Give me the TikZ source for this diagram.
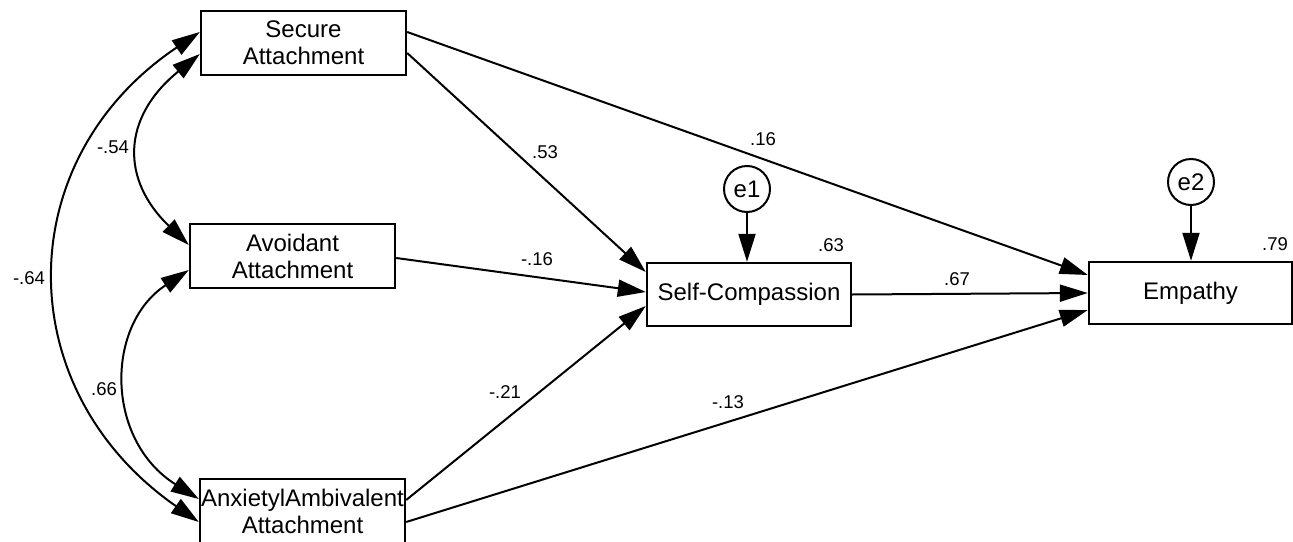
\documentclass[tikz,border=0pt]{standalone}
\usepackage{fontspec}
\setmainfont{Liberation Sans}
\usetikzlibrary{arrows.meta}
\begin{document}
\begin{tikzpicture}[x=1pt,y=-1pt,
  box/.style={draw,line width=2.4pt,inner sep=0pt,align=center,font=\fontsize{24}{27}\selectfont},
  err/.style={draw,circle,line width=2pt,minimum size=46pt,inner sep=0pt,font=\fontsize{24}{27}\selectfont},
  path/.style={line width=2pt,-{Triangle[length=28pt,width=17pt]}},
  cov/.style={line width=2pt,{Triangle[length=28pt,width=17pt]}-{Triangle[length=28pt,width=17pt]}},
  num/.style={inner sep=0pt,font=\fontsize{18.5}{20}\selectfont}]
\useasboundingbox (0,0) rectangle (1293,541);
\node[box,minimum width=205pt,minimum height=64pt] (sec) at (303.5,43) {Secure\\Attachment};
\node[box,minimum width=205pt,minimum height=64pt] (avo) at (292.5,256) {Avoidant\\Attachment};
\node[box,minimum width=205pt,minimum height=64pt] (anx) at (302.5,511) {\makebox[0pt][c]{AnxietylAmbivalent}\\Attachment};
\node[box,minimum width=204pt,minimum height=63pt] (sc) at (749,294.5) {Self-Compassion};
\node[box,minimum width=203pt,minimum height=62pt] (emp) at (1190.5,293) {Empathy};
\node[err] (e1) at (747,189) {e1};
\node[err] (e2) at (1191,182) {e2};
% paths
\draw[path] ([yshift=-10pt]sec.east) -- ([yshift=22.5pt]sc.west);
\draw[path] ([yshift=11pt]sec.east) -- ([yshift=18pt]emp.west);
\draw[path] ([yshift=-2pt]avo.east) -- ([yshift=2.5pt]sc.west);
\draw[path] (sc.east) -- (emp.west);
\draw[path] ([yshift=11pt]anx.east) -- ([yshift=-11.5pt]sc.west);
\draw[path] ([yshift=-11pt]anx.east) -- ([yshift=-17pt]emp.west);
\draw[path] (e1.south) -- (e1.south |- sc.north);
\draw[path] (e2.south) -- (e2.south |- emp.north);
% covariances
\draw[cov] ([yshift=-11pt]sec.west) .. controls (121,118) and (121,180) .. ([yshift=11pt]avo.west);
\draw[cov] ([yshift=11pt]sec.west) .. controls (9,160) and (9,390) .. ([yshift=-11pt]anx.west);
\draw[cov] ([yshift=-14pt]avo.west) .. controls (105,325) and (105,440) .. ([yshift=12pt]anx.west);
% labels
\node[num] (l16) at (763,139) {.16};
\node[num] (l53) at (545,152) {.53};
\node[num] (lm16) at (537,259) {-.16};
\node[num] (l67) at (957,279) {.67};
\node[num] (lm21) at (505,392) {-.21};
\node[num] (lm13) at (728,402) {-.13};
\node[num] (lm54) at (113,147) {-.54};
\node[num] (lm64) at (29,278) {-.64};
\node[num] (l66) at (104,389) {.66};
\node[num] (l63) at (831,245) {.63};
\node[num] (l79) at (1275,244) {.79};
\end{tikzpicture}
\end{document}
